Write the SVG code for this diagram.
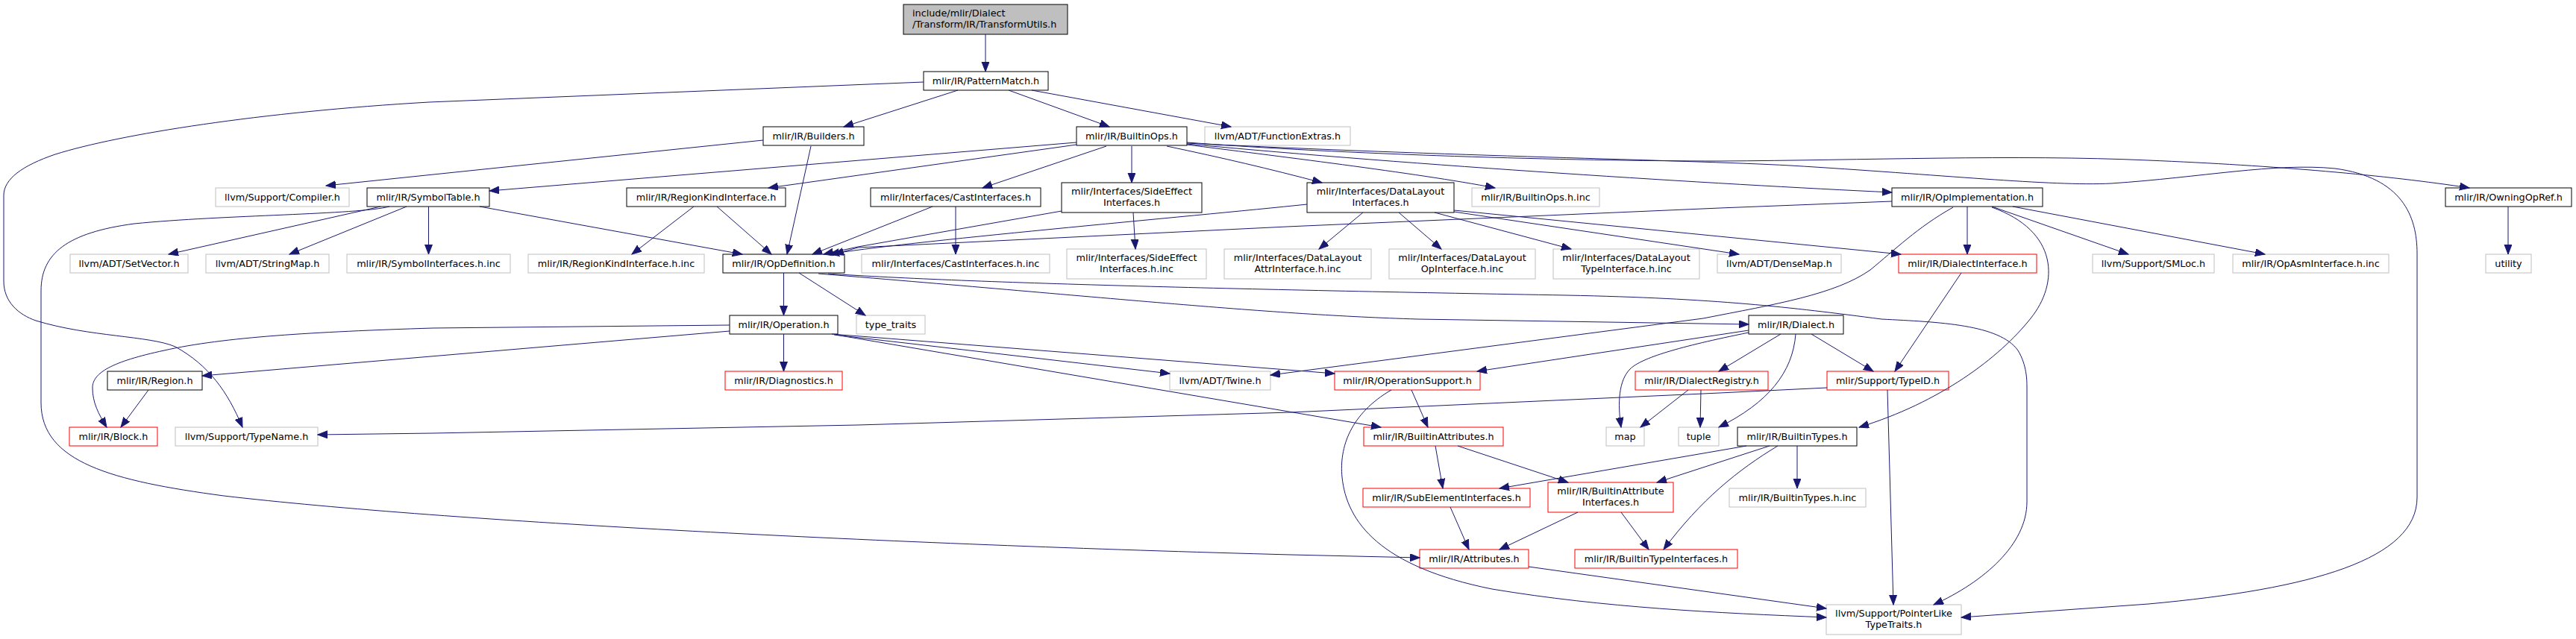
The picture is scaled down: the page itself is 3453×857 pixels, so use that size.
<svg xmlns="http://www.w3.org/2000/svg" width="3453" height="857" viewBox="0 0 3453 857">
<defs>
<style>
text{font-family:"DejaVu Sans","Liberation Sans",sans-serif;font-size:12.8px;text-anchor:middle;fill:#000}
.b rect{fill:#fff;stroke:#000;stroke-width:1}
.g rect{fill:#fff;stroke:#bfbfbf;stroke-width:1}
.r rect{fill:#fff;stroke:#ff0000;stroke-width:1}
.root rect{fill:#bfbfbf;stroke:#000;stroke-width:1}
.root text{text-anchor:start}
#edges path{fill:none;stroke:#191970;stroke-width:1;marker-end:url(#ah)}
</style>
<marker id="ah" markerUnits="userSpaceOnUse" markerWidth="14" markerHeight="11" refX="13" refY="5" orient="auto" viewBox="0 0 14 11"><path d="M0,0L13,5L0,10z" fill="#191970" stroke="#191970" stroke-width="1"/></marker>
</defs>
<rect width="3453" height="857" fill="#fff"/>
<g id="nodes">
<g id="n_root" class="root"><rect x="1211" y="6" width="220" height="40"/><text x="1223" y="22">include/mlir/Dialect</text><text x="1223" y="37">/Transform/IR/TransformUtils.h</text></g>
<g id="n_patternmatch" class="b"><rect x="1238" y="96" width="167" height="25"/><text x="1321.5" y="112.5">mlir/IR/PatternMatch.h</text></g>
<g id="n_builders" class="b"><rect x="1023" y="170" width="135" height="25"/><text x="1090.5" y="186.5">mlir/IR/Builders.h</text></g>
<g id="n_builtinops" class="b"><rect x="1443" y="170" width="148" height="25"/><text x="1517" y="186.5">mlir/IR/BuiltinOps.h</text></g>
<g id="n_functionextras" class="g"><rect x="1615" y="170" width="195" height="25"/><text x="1712.5" y="186.5">llvm/ADT/FunctionExtras.h</text></g>
<g id="n_compiler" class="g"><rect x="289" y="252" width="179" height="25"/><text x="378.5" y="268.5">llvm/Support/Compiler.h</text></g>
<g id="n_symboltable" class="b"><rect x="492" y="252" width="164" height="25"/><text x="574" y="268.5">mlir/IR/SymbolTable.h</text></g>
<g id="n_regionkind" class="b"><rect x="840" y="252" width="213" height="25"/><text x="946.5" y="268.5">mlir/IR/RegionKindInterface.h</text></g>
<g id="n_castinterfaces" class="b"><rect x="1167" y="252" width="228" height="25"/><text x="1281" y="268.5">mlir/Interfaces/CastInterfaces.h</text></g>
<g id="n_sideeffect" class="b"><rect x="1423" y="245" width="188" height="40"/><text x="1517" y="261">mlir/Interfaces/SideEffect</text><text x="1517" y="276">Interfaces.h</text></g>
<g id="n_datalayout" class="b"><rect x="1752" y="245" width="197" height="40"/><text x="1850.5" y="261">mlir/Interfaces/DataLayout</text><text x="1850.5" y="276">Interfaces.h</text></g>
<g id="n_builtinopsinc" class="g"><rect x="1973" y="252" width="171" height="25"/><text x="2058.5" y="268.5">mlir/IR/BuiltinOps.h.inc</text></g>
<g id="n_opimpl" class="b"><rect x="2536" y="252" width="202" height="25"/><text x="2637" y="268.5">mlir/IR/OpImplementation.h</text></g>
<g id="n_owningopref" class="b"><rect x="3278" y="252" width="169" height="25"/><text x="3362.5" y="268.5">mlir/IR/OwningOpRef.h</text></g>
<g id="n_setvector" class="g"><rect x="94" y="341" width="158" height="25"/><text x="173" y="357.5">llvm/ADT/SetVector.h</text></g>
<g id="n_stringmap" class="g"><rect x="276" y="341" width="165" height="25"/><text x="358.5" y="357.5">llvm/ADT/StringMap.h</text></g>
<g id="n_symbolinc" class="g"><rect x="465" y="341" width="219" height="25"/><text x="574.5" y="357.5">mlir/IR/SymbolInterfaces.h.inc</text></g>
<g id="n_regionkindinc" class="g"><rect x="708" y="341" width="236" height="25"/><text x="826" y="357.5">mlir/IR/RegionKindInterface.h.inc</text></g>
<g id="n_opdefinition" class="b"><rect x="969" y="341" width="163" height="25"/><text x="1050.5" y="357.5">mlir/IR/OpDefinition.h</text></g>
<g id="n_castinc" class="g"><rect x="1155" y="341" width="252" height="25"/><text x="1281" y="357.5">mlir/Interfaces/CastInterfaces.h.inc</text></g>
<g id="n_sideeffectinc" class="g"><rect x="1430" y="334" width="187" height="40"/><text x="1523.5" y="350">mlir/Interfaces/SideEffect</text><text x="1523.5" y="365">Interfaces.h.inc</text></g>
<g id="n_dlattr" class="g"><rect x="1641" y="334" width="197" height="40"/><text x="1739.5" y="350">mlir/Interfaces/DataLayout</text><text x="1739.5" y="365">AttrInterface.h.inc</text></g>
<g id="n_dlop" class="g"><rect x="1862" y="334" width="196" height="40"/><text x="1960" y="350">mlir/Interfaces/DataLayout</text><text x="1960" y="365">OpInterface.h.inc</text></g>
<g id="n_dltype" class="g"><rect x="2082" y="334" width="196" height="40"/><text x="2180" y="350">mlir/Interfaces/DataLayout</text><text x="2180" y="365">TypeInterface.h.inc</text></g>
<g id="n_densemap" class="g"><rect x="2302" y="341" width="166" height="25"/><text x="2385" y="357.5">llvm/ADT/DenseMap.h</text></g>
<g id="n_dialectinterface" class="r"><rect x="2545" y="341" width="185" height="25"/><text x="2637.5" y="357.5">mlir/IR/DialectInterface.h</text></g>
<g id="n_smloc" class="g"><rect x="2805" y="341" width="163" height="25"/><text x="2886.5" y="357.5">llvm/Support/SMLoc.h</text></g>
<g id="n_opasminc" class="g"><rect x="2993" y="341" width="209" height="25"/><text x="3097.5" y="357.5">mlir/IR/OpAsmInterface.h.inc</text></g>
<g id="n_utility" class="g"><rect x="3332" y="341" width="61" height="25"/><text x="3362.5" y="357.5">utility</text></g>
<g id="n_operation" class="b"><rect x="978" y="423" width="145" height="25"/><text x="1050.5" y="439.5">mlir/IR/Operation.h</text></g>
<g id="n_typetraits" class="g"><rect x="1148" y="423" width="92" height="25"/><text x="1194" y="439.5">type_traits</text></g>
<g id="n_dialect" class="b"><rect x="2344" y="423" width="127" height="25"/><text x="2407.5" y="439.5">mlir/IR/Dialect.h</text></g>
<g id="n_region" class="b"><rect x="144" y="498" width="127" height="25"/><text x="207.5" y="514.5">mlir/IR/Region.h</text></g>
<g id="n_diagnostics" class="r"><rect x="972" y="498" width="157" height="25"/><text x="1050.5" y="514.5">mlir/IR/Diagnostics.h</text></g>
<g id="n_twine" class="g"><rect x="1568" y="498" width="135" height="25"/><text x="1635.5" y="514.5">llvm/ADT/Twine.h</text></g>
<g id="n_opsupport" class="r"><rect x="1789" y="498" width="195" height="25"/><text x="1886.5" y="514.5">mlir/IR/OperationSupport.h</text></g>
<g id="n_dialectregistry" class="r"><rect x="2192" y="498" width="178" height="25"/><text x="2281" y="514.5">mlir/IR/DialectRegistry.h</text></g>
<g id="n_typeid" class="r"><rect x="2449" y="498" width="163" height="25"/><text x="2530.5" y="514.5">mlir/Support/TypeID.h</text></g>
<g id="n_block" class="r"><rect x="93" y="573" width="118" height="25"/><text x="152" y="589.5">mlir/IR/Block.h</text></g>
<g id="n_typename" class="g"><rect x="235" y="573" width="191" height="25"/><text x="330.5" y="589.5">llvm/Support/TypeName.h</text></g>
<g id="n_builtinattrs" class="r"><rect x="1828" y="573" width="187" height="25"/><text x="1921.5" y="589.5">mlir/IR/BuiltinAttributes.h</text></g>
<g id="n_map" class="g"><rect x="2153" y="573" width="51" height="25"/><text x="2178.5" y="589.5">map</text></g>
<g id="n_tuple" class="g"><rect x="2250" y="573" width="54" height="25"/><text x="2277" y="589.5">tuple</text></g>
<g id="n_builtintypes" class="b"><rect x="2329" y="573" width="160" height="25"/><text x="2409" y="589.5">mlir/IR/BuiltinTypes.h</text></g>
<g id="n_subelement" class="r"><rect x="1827" y="655" width="224" height="25"/><text x="1939" y="671.5">mlir/IR/SubElementInterfaces.h</text></g>
<g id="n_builtinattrinterfaces" class="r"><rect x="2075" y="647" width="168" height="40"/><text x="2159" y="663">mlir/IR/BuiltinAttribute</text><text x="2159" y="678">Interfaces.h</text></g>
<g id="n_builtintypesinc" class="g"><rect x="2318" y="655" width="183" height="25"/><text x="2409.5" y="671.5">mlir/IR/BuiltinTypes.h.inc</text></g>
<g id="n_attributes" class="r"><rect x="1903" y="737" width="146" height="25"/><text x="1976" y="753.5">mlir/IR/Attributes.h</text></g>
<g id="n_builtintypeinterfaces" class="r"><rect x="2111" y="737" width="218" height="25"/><text x="2220" y="753.5">mlir/IR/BuiltinTypeInterfaces.h</text></g>
<g id="n_pointerlike" class="g"><rect x="2448" y="811" width="181" height="40"/><text x="2538.5" y="827">llvm/Support/PointerLike</text><text x="2538.5" y="842">TypeTraits.h</text></g>
</g>
<g id="edges">
<path d="M1321,46L1321,96"/>
<path d="M1284,121L1131,170"/>
<path d="M1352,121L1487,170"/>
<path d="M1383,121L1650,170"/>
<path d="M1238,110L575,137C350,150 160,180 74,207C30,222 5,240 5,262L5,377C5,405 25,422 48,430C120,452 200,450 235,465C280,490 305,525 325,573"/>
<path d="M1023,188L437,249"/>
<path d="M1087,196L1055,341"/>
<path d="M1443,191L656,256"/>
<path d="M1443,194L1030,252"/>
<path d="M1483,196L1317,252"/>
<path d="M1517,196L1517,245"/>
<path d="M1564,196C1640,212 1700,226 1772,245"/>
<path d="M1591,194C1700,208 1900,232 2004,252"/>
<path d="M1591,193C1900,222 2300,247 2536,258"/>
<path d="M1591,191C1800,207 2100,216 2305,216C2500,215 2700,207 2880,215C3050,222 3200,235 3310,252"/>
<path d="M1591,192C1950,210 2250,214 2400,222C2600,234 2750,250 2830,246C2950,238 3050,218 3130,226C3220,238 3240,290 3240,340L3240,667C3240,750 3100,790 2880,810L2629,828"/>
<path d="M510,277L226,341"/>
<path d="M545,277L388,341"/>
<path d="M574.5,277L574.5,341"/>
<path d="M643,277L995,341"/>
<path d="M522,277C480,288 300,288 180,300C90,312 55,340 55,390L55,540C55,620 150,645 300,665C600,700 1200,730 1730,744L1903,748"/>
<path d="M930,277L847,341"/>
<path d="M961,277L1034,341"/>
<path d="M1281,277L1281,341"/>
<path d="M1250,277L1089,341"/>
<path d="M1519,285L1522,334"/>
<path d="M1423,283L1150,331L1104,341"/>
<path d="M1752,274C1600,290 1200,325 1112,341"/>
<path d="M2536,270L2305,279L1725,304L1150,332L1118,341"/>
<path d="M1827,285L1768,334"/>
<path d="M1875,285L1932,334"/>
<path d="M1923,285L2106,334"/>
<path d="M1949,284L2331,341"/>
<path d="M1949,282L2548,341"/>
<path d="M2637,277L2637,341"/>
<path d="M2670,277L2853,341"/>
<path d="M2698,277L3036,341"/>
<path d="M2618,278C2570,305 2540,335 2507,362C2460,395 2380,408 2283,427L1703,503"/>
<path d="M2670,278C2760,310 2760,380 2722,427C2680,480 2600,540 2492,573"/>
<path d="M3362,277L3362,341"/>
<path d="M1050.5,366L1050.5,423"/>
<path d="M1071,366L1160,423"/>
<path d="M1097,367C1500,400 1700,422 1900,428L2344,435"/>
<path d="M1110,367C1300,380 1700,389 2100,396C2300,400 2400,412 2522,428C2600,432 2680,435 2705,470C2717,490 2717,510 2717,520L2717,673C2717,730 2660,780 2592,811"/>
<path d="M1050.5,448L1050.5,498"/>
<path d="M978,444L271,504"/>
<path d="M978,436L580,440C420,445 300,452 220,470C150,485 124,500 124,520C124,540 132,555 143,573"/>
<path d="M199,523L162,573"/>
<path d="M1118,449L1568,501"/>
<path d="M1115,448L1789,501"/>
<path d="M1120,449L1851,573"/>
<path d="M1892,523L1914,573"/>
<path d="M1865,523C1810,555 1795,600 1799,640C1805,700 1850,760 2000,790C2150,815 2300,822 2448,828"/>
<path d="M2049,760L2448,816"/>
<path d="M1924,598L1934,655"/>
<path d="M1954,598L2102,647"/>
<path d="M1944,680L1969,737"/>
<path d="M2115,687L2010,737"/>
<path d="M2173,687L2210,737"/>
<path d="M2341,598L2010,655"/>
<path d="M2372,598L2221,647"/>
<path d="M2383,598C2330,630 2280,670 2230,737"/>
<path d="M2409,598L2409,655"/>
<path d="M2530,523L2538,811"/>
<path d="M2449,520L2305,527L1730,553L1150,570L580,581L426,583"/>
<path d="M2629,366L2540,498"/>
<path d="M2387,448L2304,498"/>
<path d="M2428,448L2511,498"/>
<path d="M2407,448C2403,500 2370,540 2304,573"/>
<path d="M2344,446C2250,465 2200,480 2185,495C2170,510 2168,540 2173,573"/>
<path d="M2344,443L1980,498"/>
<path d="M2263,523L2199,573"/>
<path d="M2280,523L2279,573"/>
</g>
</svg>
